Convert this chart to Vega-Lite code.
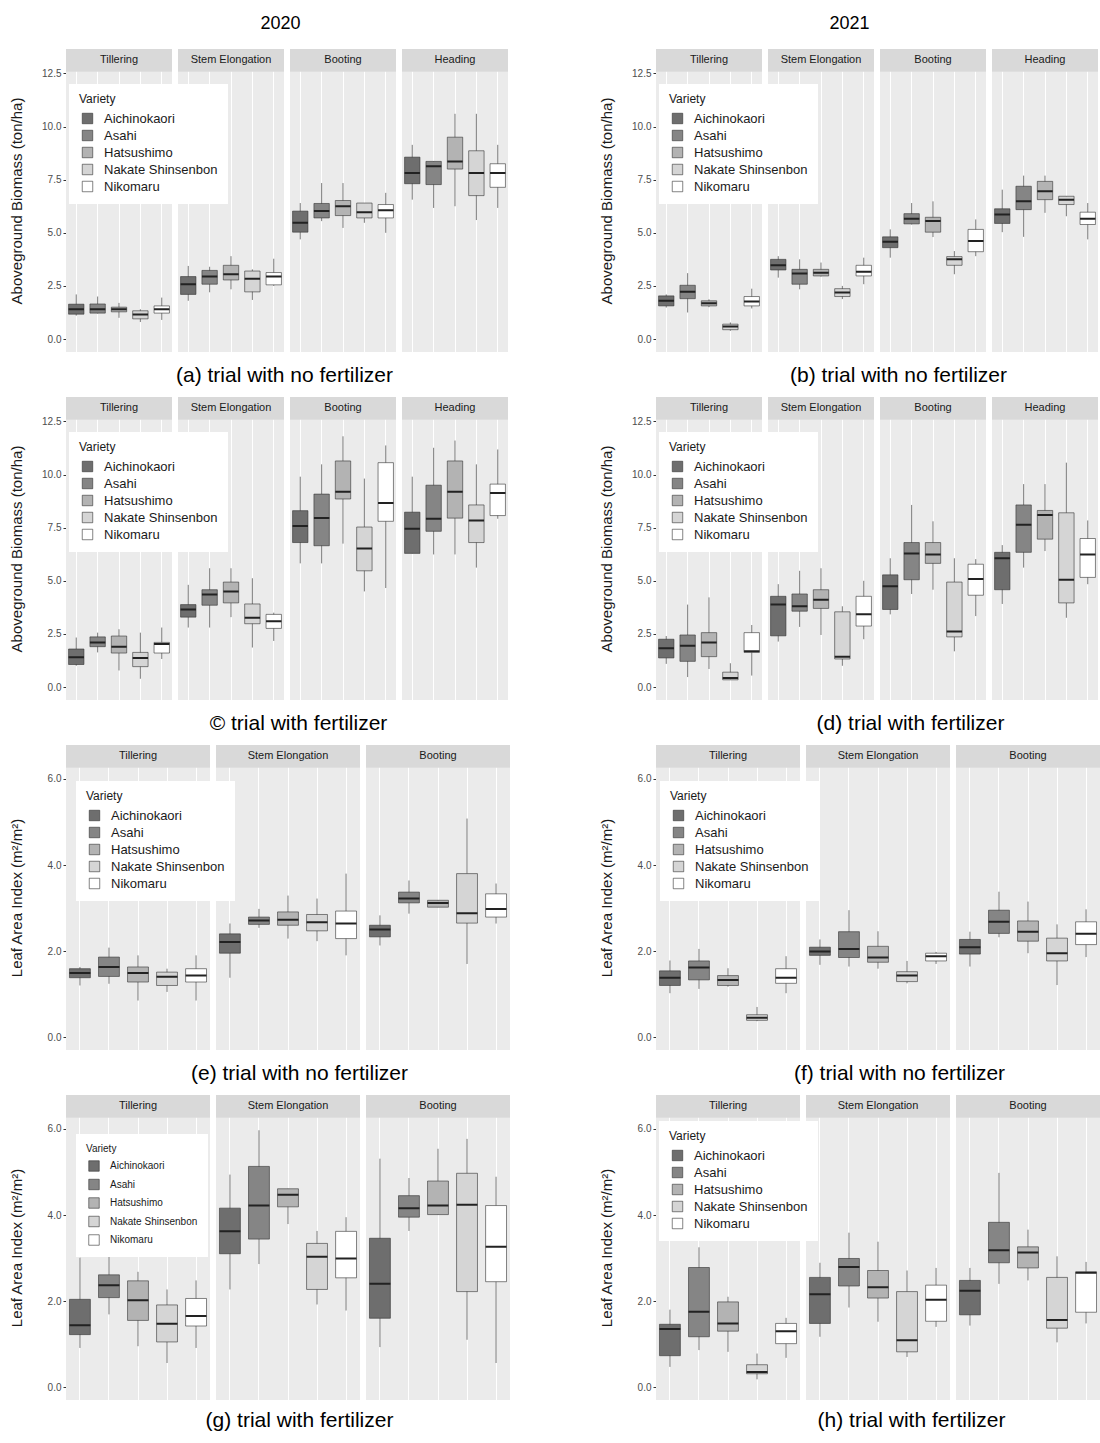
{
  "$schema": "https://vega.github.io/schema/vega-lite/v6.json",
  "background": "white",
  "padding": {"left": 9, "top": 15, "right": 0, "bottom": 0},
  "spacing": 89,
  "resolve": {"legend": {"fill": "independent"}, "scale": {"fill": "independent"}},
  "datasets": {
    "a": [
      {"stage":"Tillering","variety":"Aichinokaori","lo":1.1,"q1":1.17,"med":1.4,"q3":1.64,"hi":2.1},
      {"stage":"Tillering","variety":"Asahi","lo":1.2,"q1":1.22,"med":1.4,"q3":1.65,"hi":2.0},
      {"stage":"Tillering","variety":"Hatsushimo","lo":1.0,"q1":1.28,"med":1.4,"q3":1.5,"hi":1.7},
      {"stage":"Tillering","variety":"Nakate Shinsenbon","lo":0.8,"q1":0.95,"med":1.15,"q3":1.33,"hi":1.4},
      {"stage":"Tillering","variety":"Nikomaru","lo":0.9,"q1":1.22,"med":1.4,"q3":1.56,"hi":1.95},
      {"stage":"Stem Elongation","variety":"Aichinokaori","lo":1.8,"q1":2.1,"med":2.58,"q3":2.94,"hi":3.44},
      {"stage":"Stem Elongation","variety":"Asahi","lo":2.2,"q1":2.58,"med":2.94,"q3":3.23,"hi":3.4},
      {"stage":"Stem Elongation","variety":"Hatsushimo","lo":2.34,"q1":2.78,"med":3.05,"q3":3.47,"hi":3.9},
      {"stage":"Stem Elongation","variety":"Nakate Shinsenbon","lo":1.84,"q1":2.22,"med":2.84,"q3":3.2,"hi":3.28},
      {"stage":"Stem Elongation","variety":"Nikomaru","lo":2.5,"q1":2.55,"med":2.94,"q3":3.13,"hi":3.78},
      {"stage":"Booting","variety":"Aichinokaori","lo":4.69,"q1":5.03,"med":5.47,"q3":6.02,"hi":6.4},
      {"stage":"Booting","variety":"Asahi","lo":5.55,"q1":5.7,"med":6.02,"q3":6.38,"hi":7.34},
      {"stage":"Booting","variety":"Hatsushimo","lo":5.23,"q1":5.81,"med":6.25,"q3":6.52,"hi":7.34},
      {"stage":"Booting","variety":"Nakate Shinsenbon","lo":5.47,"q1":5.7,"med":5.97,"q3":6.4,"hi":6.4},
      {"stage":"Booting","variety":"Nikomaru","lo":5.0,"q1":5.7,"med":6.06,"q3":6.33,"hi":6.88},
      {"stage":"Heading","variety":"Aichinokaori","lo":6.56,"q1":7.31,"med":7.81,"q3":8.56,"hi":9.14},
      {"stage":"Heading","variety":"Asahi","lo":6.17,"q1":7.27,"med":8.13,"q3":8.36,"hi":8.36},
      {"stage":"Heading","variety":"Hatsushimo","lo":6.25,"q1":8.0,"med":8.36,"q3":9.5,"hi":10.6},
      {"stage":"Heading","variety":"Nakate Shinsenbon","lo":5.6,"q1":6.75,"med":7.81,"q3":8.86,"hi":10.6},
      {"stage":"Heading","variety":"Nikomaru","lo":6.17,"q1":7.14,"med":7.81,"q3":8.25,"hi":9.14}
    ],
    "b": [
      {"stage":"Tillering","variety":"Aichinokaori","lo":1.48,"q1":1.56,"med":1.8,"q3":2.03,"hi":2.1},
      {"stage":"Tillering","variety":"Asahi","lo":1.25,"q1":1.9,"med":2.22,"q3":2.53,"hi":3.1},
      {"stage":"Tillering","variety":"Hatsushimo","lo":1.5,"q1":1.56,"med":1.69,"q3":1.8,"hi":1.87},
      {"stage":"Tillering","variety":"Nakate Shinsenbon","lo":0.39,"q1":0.44,"med":0.59,"q3":0.7,"hi":0.78},
      {"stage":"Tillering","variety":"Nikomaru","lo":1.44,"q1":1.56,"med":1.77,"q3":2.0,"hi":2.37},
      {"stage":"Stem Elongation","variety":"Aichinokaori","lo":2.89,"q1":3.25,"med":3.47,"q3":3.75,"hi":3.9},
      {"stage":"Stem Elongation","variety":"Asahi","lo":2.34,"q1":2.58,"med":3.08,"q3":3.28,"hi":3.75},
      {"stage":"Stem Elongation","variety":"Hatsushimo","lo":2.94,"q1":2.97,"med":3.12,"q3":3.28,"hi":3.6},
      {"stage":"Stem Elongation","variety":"Nakate Shinsenbon","lo":1.88,"q1":2.0,"med":2.19,"q3":2.37,"hi":2.5},
      {"stage":"Stem Elongation","variety":"Nikomaru","lo":2.58,"q1":2.97,"med":3.17,"q3":3.47,"hi":3.83},
      {"stage":"Booting","variety":"Aichinokaori","lo":3.83,"q1":4.3,"med":4.58,"q3":4.81,"hi":5.16},
      {"stage":"Booting","variety":"Asahi","lo":5.39,"q1":5.42,"med":5.66,"q3":5.9,"hi":6.4},
      {"stage":"Booting","variety":"Hatsushimo","lo":4.8,"q1":5.03,"med":5.55,"q3":5.73,"hi":6.48},
      {"stage":"Booting","variety":"Nakate Shinsenbon","lo":3.05,"q1":3.47,"med":3.75,"q3":3.88,"hi":4.14},
      {"stage":"Booting","variety":"Nikomaru","lo":3.9,"q1":4.11,"med":4.61,"q3":5.16,"hi":5.63},
      {"stage":"Heading","variety":"Aichinokaori","lo":5.03,"q1":5.44,"med":5.86,"q3":6.13,"hi":7.03},
      {"stage":"Heading","variety":"Asahi","lo":4.81,"q1":6.09,"med":6.48,"q3":7.19,"hi":7.69},
      {"stage":"Heading","variety":"Hatsushimo","lo":5.94,"q1":6.56,"med":6.95,"q3":7.42,"hi":7.69},
      {"stage":"Heading","variety":"Nakate Shinsenbon","lo":5.78,"q1":6.33,"med":6.56,"q3":6.72,"hi":6.72},
      {"stage":"Heading","variety":"Nikomaru","lo":4.69,"q1":5.39,"med":5.66,"q3":5.97,"hi":6.4}
    ],
    "c": [
      {"stage":"Tillering","variety":"Aichinokaori","lo":1.0,"q1":1.06,"med":1.4,"q3":1.79,"hi":2.33},
      {"stage":"Tillering","variety":"Asahi","lo":1.63,"q1":1.9,"med":2.1,"q3":2.36,"hi":2.56},
      {"stage":"Tillering","variety":"Hatsushimo","lo":0.78,"q1":1.6,"med":1.9,"q3":2.4,"hi":2.72},
      {"stage":"Tillering","variety":"Nakate Shinsenbon","lo":0.39,"q1":0.96,"med":1.37,"q3":1.63,"hi":2.56},
      {"stage":"Tillering","variety":"Nikomaru","lo":1.32,"q1":1.6,"med":2.02,"q3":2.1,"hi":2.8},
      {"stage":"Stem Elongation","variety":"Aichinokaori","lo":2.8,"q1":3.29,"med":3.65,"q3":3.88,"hi":4.81},
      {"stage":"Stem Elongation","variety":"Asahi","lo":2.8,"q1":3.85,"med":4.35,"q3":4.58,"hi":5.59},
      {"stage":"Stem Elongation","variety":"Hatsushimo","lo":3.29,"q1":3.96,"med":4.5,"q3":4.94,"hi":5.59},
      {"stage":"Stem Elongation","variety":"Nakate Shinsenbon","lo":1.86,"q1":2.98,"med":3.26,"q3":3.91,"hi":5.12},
      {"stage":"Stem Elongation","variety":"Nikomaru","lo":2.17,"q1":2.76,"med":3.1,"q3":3.42,"hi":3.5},
      {"stage":"Booting","variety":"Aichinokaori","lo":5.82,"q1":6.8,"med":7.58,"q3":8.3,"hi":9.9},
      {"stage":"Booting","variety":"Asahi","lo":5.82,"q1":6.65,"med":7.95,"q3":9.08,"hi":10.48},
      {"stage":"Booting","variety":"Hatsushimo","lo":6.75,"q1":8.85,"med":9.19,"q3":10.64,"hi":11.8},
      {"stage":"Booting","variety":"Nakate Shinsenbon","lo":4.5,"q1":5.47,"med":6.52,"q3":7.53,"hi":9.81},
      {"stage":"Booting","variety":"Nikomaru","lo":4.66,"q1":7.8,"med":8.66,"q3":10.56,"hi":11.37},
      {"stage":"Heading","variety":"Aichinokaori","lo":6.29,"q1":6.29,"med":7.45,"q3":8.23,"hi":9.9},
      {"stage":"Heading","variety":"Asahi","lo":6.24,"q1":7.33,"med":7.92,"q3":9.5,"hi":11.26},
      {"stage":"Heading","variety":"Hatsushimo","lo":6.24,"q1":7.95,"med":9.19,"q3":10.64,"hi":11.6},
      {"stage":"Heading","variety":"Nakate Shinsenbon","lo":5.62,"q1":6.8,"med":7.84,"q3":8.57,"hi":10.48},
      {"stage":"Heading","variety":"Nikomaru","lo":7.92,"q1":8.07,"med":9.13,"q3":9.55,"hi":11.18}
    ],
    "d": [
      {"stage":"Tillering","variety":"Aichinokaori","lo":1.09,"q1":1.37,"med":1.83,"q3":2.25,"hi":2.4},
      {"stage":"Tillering","variety":"Asahi","lo":0.47,"q1":1.21,"med":1.94,"q3":2.45,"hi":3.88},
      {"stage":"Tillering","variety":"Hatsushimo","lo":0.85,"q1":1.43,"med":2.1,"q3":2.56,"hi":4.22},
      {"stage":"Tillering","variety":"Nakate Shinsenbon","lo":0.34,"q1":0.34,"med":0.43,"q3":0.7,"hi":1.12},
      {"stage":"Tillering","variety":"Nikomaru","lo":0.54,"q1":1.63,"med":1.68,"q3":2.56,"hi":2.92},
      {"stage":"Stem Elongation","variety":"Aichinokaori","lo":2.14,"q1":2.41,"med":3.88,"q3":4.27,"hi":4.84},
      {"stage":"Stem Elongation","variety":"Asahi","lo":2.83,"q1":3.57,"med":3.8,"q3":4.38,"hi":5.47},
      {"stage":"Stem Elongation","variety":"Hatsushimo","lo":2.45,"q1":3.7,"med":4.11,"q3":4.58,"hi":5.59},
      {"stage":"Stem Elongation","variety":"Nakate Shinsenbon","lo":1.0,"q1":1.32,"med":1.43,"q3":3.54,"hi":3.8},
      {"stage":"Stem Elongation","variety":"Nikomaru","lo":2.25,"q1":2.87,"med":3.42,"q3":4.27,"hi":5.0},
      {"stage":"Booting","variety":"Aichinokaori","lo":3.42,"q1":3.65,"med":4.74,"q3":5.28,"hi":6.06},
      {"stage":"Booting","variety":"Asahi","lo":4.38,"q1":5.05,"med":6.29,"q3":6.8,"hi":8.57},
      {"stage":"Booting","variety":"Hatsushimo","lo":4.58,"q1":5.82,"med":6.24,"q3":6.8,"hi":7.8},
      {"stage":"Booting","variety":"Nakate Shinsenbon","lo":1.68,"q1":2.36,"med":2.61,"q3":4.94,"hi":6.06},
      {"stage":"Booting","variety":"Nikomaru","lo":3.34,"q1":4.32,"med":5.09,"q3":5.78,"hi":6.02},
      {"stage":"Heading","variety":"Aichinokaori","lo":3.91,"q1":4.58,"med":6.06,"q3":6.34,"hi":6.68},
      {"stage":"Heading","variety":"Asahi","lo":5.62,"q1":6.34,"med":7.64,"q3":8.57,"hi":9.55},
      {"stage":"Heading","variety":"Hatsushimo","lo":6.4,"q1":6.96,"med":8.1,"q3":8.31,"hi":9.55},
      {"stage":"Heading","variety":"Nakate Shinsenbon","lo":3.26,"q1":3.96,"med":5.05,"q3":8.2,"hi":10.56},
      {"stage":"Heading","variety":"Nikomaru","lo":4.84,"q1":5.16,"med":6.24,"q3":6.99,"hi":7.84}
    ],
    "e": [
      {"stage":"Tillering","variety":"Aichinokaori","lo":1.2,"q1":1.38,"med":1.49,"q3":1.59,"hi":1.63},
      {"stage":"Tillering","variety":"Asahi","lo":1.24,"q1":1.41,"med":1.63,"q3":1.86,"hi":2.08},
      {"stage":"Tillering","variety":"Hatsushimo","lo":0.85,"q1":1.28,"med":1.49,"q3":1.63,"hi":1.9},
      {"stage":"Tillering","variety":"Nakate Shinsenbon","lo":1.05,"q1":1.2,"med":1.4,"q3":1.51,"hi":1.59},
      {"stage":"Tillering","variety":"Nikomaru","lo":0.85,"q1":1.28,"med":1.43,"q3":1.59,"hi":1.9},
      {"stage":"Stem Elongation","variety":"Aichinokaori","lo":1.38,"q1":1.95,"med":2.21,"q3":2.4,"hi":2.64},
      {"stage":"Stem Elongation","variety":"Asahi","lo":2.54,"q1":2.62,"med":2.71,"q3":2.79,"hi":2.98},
      {"stage":"Stem Elongation","variety":"Hatsushimo","lo":2.29,"q1":2.6,"med":2.73,"q3":2.91,"hi":3.29},
      {"stage":"Stem Elongation","variety":"Nakate Shinsenbon","lo":2.23,"q1":2.47,"med":2.67,"q3":2.85,"hi":3.22},
      {"stage":"Stem Elongation","variety":"Nikomaru","lo":1.9,"q1":2.29,"med":2.64,"q3":2.93,"hi":3.8},
      {"stage":"Booting","variety":"Aichinokaori","lo":2.13,"q1":2.33,"med":2.5,"q3":2.6,"hi":2.83},
      {"stage":"Booting","variety":"Asahi","lo":2.87,"q1":3.12,"med":3.22,"q3":3.37,"hi":3.64},
      {"stage":"Booting","variety":"Hatsushimo","lo":3.02,"q1":3.02,"med":3.12,"q3":3.18,"hi":3.18},
      {"stage":"Booting","variety":"Nakate Shinsenbon","lo":1.7,"q1":2.65,"med":2.88,"q3":3.8,"hi":5.08},
      {"stage":"Booting","variety":"Nikomaru","lo":2.64,"q1":2.79,"med":2.98,"q3":3.33,"hi":3.57}
    ],
    "f": [
      {"stage":"Tillering","variety":"Aichinokaori","lo":1.02,"q1":1.2,"med":1.38,"q3":1.54,"hi":1.78},
      {"stage":"Tillering","variety":"Asahi","lo":1.12,"q1":1.33,"med":1.62,"q3":1.77,"hi":2.05},
      {"stage":"Tillering","variety":"Hatsushimo","lo":1.17,"q1":1.2,"med":1.33,"q3":1.43,"hi":1.6},
      {"stage":"Tillering","variety":"Nakate Shinsenbon","lo":0.37,"q1":0.39,"med":0.45,"q3":0.52,"hi":0.7},
      {"stage":"Tillering","variety":"Nikomaru","lo":1.02,"q1":1.25,"med":1.38,"q3":1.59,"hi":1.88},
      {"stage":"Stem Elongation","variety":"Aichinokaori","lo":1.68,"q1":1.9,"med":1.99,"q3":2.09,"hi":2.27},
      {"stage":"Stem Elongation","variety":"Asahi","lo":1.64,"q1":1.85,"med":2.05,"q3":2.45,"hi":2.95},
      {"stage":"Stem Elongation","variety":"Hatsushimo","lo":1.59,"q1":1.74,"med":1.85,"q3":2.11,"hi":2.46},
      {"stage":"Stem Elongation","variety":"Nakate Shinsenbon","lo":1.25,"q1":1.29,"med":1.43,"q3":1.52,"hi":1.77},
      {"stage":"Stem Elongation","variety":"Nikomaru","lo":1.7,"q1":1.77,"med":1.88,"q3":1.95,"hi":1.98},
      {"stage":"Booting","variety":"Aichinokaori","lo":1.64,"q1":1.93,"med":2.09,"q3":2.27,"hi":2.45},
      {"stage":"Booting","variety":"Asahi","lo":2.32,"q1":2.41,"med":2.68,"q3":2.95,"hi":3.38},
      {"stage":"Booting","variety":"Hatsushimo","lo":1.95,"q1":2.23,"med":2.45,"q3":2.7,"hi":3.15},
      {"stage":"Booting","variety":"Nakate Shinsenbon","lo":1.21,"q1":1.77,"med":1.95,"q3":2.3,"hi":2.62},
      {"stage":"Booting","variety":"Nikomaru","lo":1.86,"q1":2.15,"med":2.4,"q3":2.68,"hi":2.97}
    ],
    "g": [
      {"stage":"Tillering","variety":"Aichinokaori","lo":0.91,"q1":1.22,"med":1.44,"q3":2.04,"hi":3.01},
      {"stage":"Tillering","variety":"Asahi","lo":1.69,"q1":2.08,"med":2.37,"q3":2.61,"hi":3.09},
      {"stage":"Tillering","variety":"Hatsushimo","lo":0.95,"q1":1.55,"med":2.02,"q3":2.47,"hi":2.68},
      {"stage":"Tillering","variety":"Nakate Shinsenbon","lo":0.56,"q1":1.05,"med":1.47,"q3":1.91,"hi":2.27},
      {"stage":"Tillering","variety":"Nikomaru","lo":0.91,"q1":1.42,"med":1.65,"q3":2.06,"hi":2.48},
      {"stage":"Stem Elongation","variety":"Aichinokaori","lo":2.27,"q1":3.1,"med":3.62,"q3":4.16,"hi":4.94},
      {"stage":"Stem Elongation","variety":"Asahi","lo":2.86,"q1":3.44,"med":4.22,"q3":5.13,"hi":5.97},
      {"stage":"Stem Elongation","variety":"Hatsushimo","lo":3.79,"q1":4.19,"med":4.47,"q3":4.61,"hi":4.61},
      {"stage":"Stem Elongation","variety":"Nakate Shinsenbon","lo":1.92,"q1":2.27,"med":3.03,"q3":3.34,"hi":3.63},
      {"stage":"Stem Elongation","variety":"Nikomaru","lo":1.78,"q1":2.54,"med":2.99,"q3":3.62,"hi":3.95},
      {"stage":"Booting","variety":"Aichinokaori","lo":0.93,"q1":1.6,"med":2.4,"q3":3.46,"hi":5.31},
      {"stage":"Booting","variety":"Asahi","lo":3.63,"q1":3.95,"med":4.16,"q3":4.45,"hi":4.86},
      {"stage":"Booting","variety":"Hatsushimo","lo":4.01,"q1":4.01,"med":4.22,"q3":4.79,"hi":5.54},
      {"stage":"Booting","variety":"Nakate Shinsenbon","lo":1.1,"q1":2.22,"med":4.24,"q3":4.97,"hi":5.77},
      {"stage":"Booting","variety":"Nikomaru","lo":0.56,"q1":2.45,"med":3.26,"q3":4.22,"hi":4.89}
    ],
    "h": [
      {"stage":"Tillering","variety":"Aichinokaori","lo":0.47,"q1":0.73,"med":1.35,"q3":1.46,"hi":1.8},
      {"stage":"Tillering","variety":"Asahi","lo":0.86,"q1":1.17,"med":1.75,"q3":2.78,"hi":3.25},
      {"stage":"Tillering","variety":"Hatsushimo","lo":0.82,"q1":1.3,"med":1.48,"q3":1.98,"hi":2.1},
      {"stage":"Tillering","variety":"Nakate Shinsenbon","lo":0.18,"q1":0.31,"med":0.35,"q3":0.52,"hi":0.78},
      {"stage":"Tillering","variety":"Nikomaru","lo":0.68,"q1":1.01,"med":1.3,"q3":1.48,"hi":1.61},
      {"stage":"Stem Elongation","variety":"Aichinokaori","lo":1.17,"q1":1.48,"med":2.16,"q3":2.55,"hi":2.89},
      {"stage":"Stem Elongation","variety":"Asahi","lo":1.85,"q1":2.35,"med":2.79,"q3":2.99,"hi":3.59},
      {"stage":"Stem Elongation","variety":"Hatsushimo","lo":1.52,"q1":2.07,"med":2.32,"q3":2.71,"hi":3.38},
      {"stage":"Stem Elongation","variety":"Nakate Shinsenbon","lo":0.7,"q1":0.82,"med":1.09,"q3":2.22,"hi":2.71},
      {"stage":"Stem Elongation","variety":"Nikomaru","lo":1.4,"q1":1.53,"med":2.03,"q3":2.37,"hi":2.77},
      {"stage":"Booting","variety":"Aichinokaori","lo":1.43,"q1":1.68,"med":2.24,"q3":2.48,"hi":2.77},
      {"stage":"Booting","variety":"Asahi","lo":2.4,"q1":2.89,"med":3.18,"q3":3.83,"hi":4.98},
      {"stage":"Booting","variety":"Hatsushimo","lo":2.48,"q1":2.77,"med":3.13,"q3":3.26,"hi":3.66},
      {"stage":"Booting","variety":"Nakate Shinsenbon","lo":1.04,"q1":1.37,"med":1.56,"q3":2.55,"hi":3.04},
      {"stage":"Booting","variety":"Nikomaru","lo":1.48,"q1":1.74,"med":2.66,"q3":2.68,"hi":2.91}
    ]
  },
  "hconcat": [
    {
      "title": {"text": "2020", "fontSize": 18, "fontWeight": "normal", "color": "black", "anchor": "middle", "offset": 16, "dx": 21},
      "spacing": 11,
      "resolve": {"legend": {"fill": "independent"}, "scale": {"fill": "independent"}},
      "vconcat": [
        {
          "data": {"name": "a"},
          "title": {"text": "(a) trial with no fertilizer", "orient": "bottom", "fontSize": 21, "fontWeight": "normal", "color": "black", "anchor": "middle", "offset": 13, "dx": 26},
          "facet": {"column": {"field": "stage", "type": "nominal", "sort": ["Tillering","Stem Elongation","Booting","Heading"], "title": null, "header": {"labels": false}}},
          "spacing": 6,
          "spec": {"width": 106, "height": 303, "layer": [
            {"mark": {"type": "rect", "color": "#D9D9D9"}, "encoding": {"y": {"datum": 12.6, "type": "quantitative", "title": "Aboveground Biomass (ton/ha)", "scale": {"domain": [-0.61, 13.65], "nice": false, "zero": false}, "axis": {"values": [0,1.25,2.5,3.75,5,6.25,7.5,8.75,10,11.25,12.5], "labelExpr": "datum.value % 2.5 === 0 ? format(datum.value, '.1f') : ''", "gridWidth": {"condition": {"test": "datum.value % 2.5 === 0", "value": 1.1}, "value": 0.5}, "tickOpacity": {"condition": {"test": "datum.value % 2.5 === 0", "value": 1}, "value": 0}}}, "y2": {"datum": 13.65}}},
            {"transform": [{"filter": "datum.variety === 'Aichinokaori'"}], "mark": {"type": "text", "fontSize": 11, "color": "#1A1A1A", "baseline": "middle"}, "encoding": {"y": {"datum": 13.12, "type": "quantitative", "title": "Aboveground Biomass (ton/ha)"}, "text": {"field": "stage"}}},
            {"mark": {"type": "rule", "color": "#444444", "strokeWidth": 0.7}, "encoding": {"x": {"field": "variety", "type": "nominal", "sort": ["Aichinokaori","Asahi","Hatsushimo","Nakate Shinsenbon","Nikomaru"], "scale": {"paddingInner": 0.28, "paddingOuter": 0.12}, "axis": {"labels": false, "ticks": false, "domain": false, "title": null, "grid": true, "gridColor": "white", "gridWidth": 1, "bandPosition": 0.5}}, "y": {"field": "lo", "type": "quantitative", "title": "Aboveground Biomass (ton/ha)"}, "y2": {"field": "hi"}}},
            {"mark": {"type": "bar", "stroke": "#333333", "strokeWidth": 0.6}, "encoding": {"x": {"field": "variety", "type": "nominal", "sort": ["Aichinokaori","Asahi","Hatsushimo","Nakate Shinsenbon","Nikomaru"]}, "y": {"field": "q1", "type": "quantitative", "title": "Aboveground Biomass (ton/ha)"}, "y2": {"field": "q3"}, "fill": {"field": "variety", "type": "nominal", "title": "Variety", "scale": {"domain": ["Aichinokaori","Asahi","Hatsushimo","Nakate Shinsenbon","Nikomaru"], "range": ["#6e6e6e","#858585","#b3b3b3","#d5d5d5","#ffffff"]}, "legend": {"orient": "none", "legendX": 3, "legendY": 35}}}},
            {"mark": {"type": "bar", "filled": false, "color": "#222222", "strokeWidth": 2}, "encoding": {"x": {"field": "variety", "type": "nominal", "sort": ["Aichinokaori","Asahi","Hatsushimo","Nakate Shinsenbon","Nikomaru"]}, "y": {"field": "med", "type": "quantitative", "title": "Aboveground Biomass (ton/ha)"}, "y2": {"field": "med"}}}
          ]}
        },
        {
          "data": {"name": "c"},
          "title": {"text": "© trial with fertilizer", "orient": "bottom", "fontSize": 21, "fontWeight": "normal", "color": "black", "anchor": "middle", "offset": 13, "dx": 40},
          "facet": {"column": {"field": "stage", "type": "nominal", "sort": ["Tillering","Stem Elongation","Booting","Heading"], "title": null, "header": {"labels": false}}},
          "spacing": 6,
          "spec": {"width": 106, "height": 303, "layer": [
            {"mark": {"type": "rect", "color": "#D9D9D9"}, "encoding": {"y": {"datum": 12.6, "type": "quantitative", "title": "Aboveground Biomass (ton/ha)", "scale": {"domain": [-0.61, 13.65], "nice": false, "zero": false}, "axis": {"values": [0,1.25,2.5,3.75,5,6.25,7.5,8.75,10,11.25,12.5], "labelExpr": "datum.value % 2.5 === 0 ? format(datum.value, '.1f') : ''", "gridWidth": {"condition": {"test": "datum.value % 2.5 === 0", "value": 1.1}, "value": 0.5}, "tickOpacity": {"condition": {"test": "datum.value % 2.5 === 0", "value": 1}, "value": 0}}}, "y2": {"datum": 13.65}}},
            {"transform": [{"filter": "datum.variety === 'Aichinokaori'"}], "mark": {"type": "text", "fontSize": 11, "color": "#1A1A1A", "baseline": "middle"}, "encoding": {"y": {"datum": 13.12, "type": "quantitative", "title": "Aboveground Biomass (ton/ha)"}, "text": {"field": "stage"}}},
            {"mark": {"type": "rule", "color": "#444444", "strokeWidth": 0.7}, "encoding": {"x": {"field": "variety", "type": "nominal", "sort": ["Aichinokaori","Asahi","Hatsushimo","Nakate Shinsenbon","Nikomaru"], "scale": {"paddingInner": 0.28, "paddingOuter": 0.12}, "axis": {"labels": false, "ticks": false, "domain": false, "title": null, "grid": true, "gridColor": "white", "gridWidth": 1, "bandPosition": 0.5}}, "y": {"field": "lo", "type": "quantitative", "title": "Aboveground Biomass (ton/ha)"}, "y2": {"field": "hi"}}},
            {"mark": {"type": "bar", "stroke": "#333333", "strokeWidth": 0.6}, "encoding": {"x": {"field": "variety", "type": "nominal", "sort": ["Aichinokaori","Asahi","Hatsushimo","Nakate Shinsenbon","Nikomaru"]}, "y": {"field": "q1", "type": "quantitative", "title": "Aboveground Biomass (ton/ha)"}, "y2": {"field": "q3"}, "fill": {"field": "variety", "type": "nominal", "title": "Variety", "scale": {"domain": ["Aichinokaori","Asahi","Hatsushimo","Nakate Shinsenbon","Nikomaru"], "range": ["#6e6e6e","#858585","#b3b3b3","#d5d5d5","#ffffff"]}, "legend": {"orient": "none", "legendX": 3, "legendY": 35}}}},
            {"mark": {"type": "bar", "filled": false, "color": "#222222", "strokeWidth": 2}, "encoding": {"x": {"field": "variety", "type": "nominal", "sort": ["Aichinokaori","Asahi","Hatsushimo","Nakate Shinsenbon","Nikomaru"]}, "y": {"field": "med", "type": "quantitative", "title": "Aboveground Biomass (ton/ha)"}, "y2": {"field": "med"}}}
          ]}
        },
        {
          "data": {"name": "e"},
          "title": {"text": "(e) trial with no fertilizer", "orient": "bottom", "fontSize": 21, "fontWeight": "normal", "color": "black", "anchor": "middle", "offset": 13, "dx": 40},
          "facet": {"column": {"field": "stage", "type": "nominal", "sort": ["Tillering","Stem Elongation","Booting"], "title": null, "header": {"labels": false}}},
          "spacing": 6,
          "spec": {"width": 144, "height": 305, "layer": [
            {"mark": {"type": "rect", "color": "#D9D9D9"}, "encoding": {"y": {"datum": 6.27, "type": "quantitative", "title": "Leaf Area Index (m²/m²)", "scale": {"domain": [-0.3, 6.79], "nice": false, "zero": false}, "axis": {"values": [0,1,2,3,4,5,6], "labelExpr": "datum.value % 2 === 0 ? format(datum.value, '.1f') : ''", "gridWidth": {"condition": {"test": "datum.value % 2 === 0", "value": 1.1}, "value": 0.5}, "tickOpacity": {"condition": {"test": "datum.value % 2 === 0", "value": 1}, "value": 0}}}, "y2": {"datum": 6.79}}},
            {"transform": [{"filter": "datum.variety === 'Aichinokaori'"}], "mark": {"type": "text", "fontSize": 11, "color": "#1A1A1A", "baseline": "middle"}, "encoding": {"y": {"datum": 6.53, "type": "quantitative", "title": "Leaf Area Index (m²/m²)"}, "text": {"field": "stage"}}},
            {"mark": {"type": "rule", "color": "#444444", "strokeWidth": 0.7}, "encoding": {"x": {"field": "variety", "type": "nominal", "sort": ["Aichinokaori","Asahi","Hatsushimo","Nakate Shinsenbon","Nikomaru"], "scale": {"paddingInner": 0.28, "paddingOuter": 0.12}, "axis": {"labels": false, "ticks": false, "domain": false, "title": null, "grid": true, "gridColor": "white", "gridWidth": 1, "bandPosition": 0.5}}, "y": {"field": "lo", "type": "quantitative", "title": "Leaf Area Index (m²/m²)"}, "y2": {"field": "hi"}}},
            {"mark": {"type": "bar", "stroke": "#333333", "strokeWidth": 0.6}, "encoding": {"x": {"field": "variety", "type": "nominal", "sort": ["Aichinokaori","Asahi","Hatsushimo","Nakate Shinsenbon","Nikomaru"]}, "y": {"field": "q1", "type": "quantitative", "title": "Leaf Area Index (m²/m²)"}, "y2": {"field": "q3"}, "fill": {"field": "variety", "type": "nominal", "title": "Variety", "scale": {"domain": ["Aichinokaori","Asahi","Hatsushimo","Nakate Shinsenbon","Nikomaru"], "range": ["#6e6e6e","#858585","#b3b3b3","#d5d5d5","#ffffff"]}, "legend": {"orient": "none", "legendX": 10, "legendY": 36}}}},
            {"mark": {"type": "bar", "filled": false, "color": "#222222", "strokeWidth": 2}, "encoding": {"x": {"field": "variety", "type": "nominal", "sort": ["Aichinokaori","Asahi","Hatsushimo","Nakate Shinsenbon","Nikomaru"]}, "y": {"field": "med", "type": "quantitative", "title": "Leaf Area Index (m²/m²)"}, "y2": {"field": "med"}}}
          ]}
        },
        {
          "data": {"name": "g"},
          "title": {"text": "(g) trial with fertilizer", "orient": "bottom", "fontSize": 21, "fontWeight": "normal", "color": "black", "anchor": "middle", "offset": 10, "dx": 40},
          "facet": {"column": {"field": "stage", "type": "nominal", "sort": ["Tillering","Stem Elongation","Booting"], "title": null, "header": {"labels": false}}},
          "spacing": 6,
          "spec": {"width": 144, "height": 305, "layer": [
            {"mark": {"type": "rect", "color": "#D9D9D9"}, "encoding": {"y": {"datum": 6.27, "type": "quantitative", "title": "Leaf Area Index (m²/m²)", "scale": {"domain": [-0.3, 6.79], "nice": false, "zero": false}, "axis": {"values": [0,1,2,3,4,5,6], "labelExpr": "datum.value % 2 === 0 ? format(datum.value, '.1f') : ''", "gridWidth": {"condition": {"test": "datum.value % 2 === 0", "value": 1.1}, "value": 0.5}, "tickOpacity": {"condition": {"test": "datum.value % 2 === 0", "value": 1}, "value": 0}}}, "y2": {"datum": 6.79}}},
            {"transform": [{"filter": "datum.variety === 'Aichinokaori'"}], "mark": {"type": "text", "fontSize": 11, "color": "#1A1A1A", "baseline": "middle"}, "encoding": {"y": {"datum": 6.53, "type": "quantitative", "title": "Leaf Area Index (m²/m²)"}, "text": {"field": "stage"}}},
            {"mark": {"type": "rule", "color": "#444444", "strokeWidth": 0.7}, "encoding": {"x": {"field": "variety", "type": "nominal", "sort": ["Aichinokaori","Asahi","Hatsushimo","Nakate Shinsenbon","Nikomaru"], "scale": {"paddingInner": 0.28, "paddingOuter": 0.12}, "axis": {"labels": false, "ticks": false, "domain": false, "title": null, "grid": true, "gridColor": "white", "gridWidth": 1, "bandPosition": 0.5}}, "y": {"field": "lo", "type": "quantitative", "title": "Leaf Area Index (m²/m²)"}, "y2": {"field": "hi"}}},
            {"mark": {"type": "bar", "stroke": "#333333", "strokeWidth": 0.6}, "encoding": {"x": {"field": "variety", "type": "nominal", "sort": ["Aichinokaori","Asahi","Hatsushimo","Nakate Shinsenbon","Nikomaru"]}, "y": {"field": "q1", "type": "quantitative", "title": "Leaf Area Index (m²/m²)"}, "y2": {"field": "q3"}, "fill": {"field": "variety", "type": "nominal", "title": "Variety", "scale": {"domain": ["Aichinokaori","Asahi","Hatsushimo","Nakate Shinsenbon","Nikomaru"], "range": ["#6e6e6e","#858585","#b3b3b3","#d5d5d5","#ffffff"]}, "legend": {"orient": "none", "legendX": 10, "legendY": 39, "labelFontSize": 10, "titleFontSize": 10, "rowPadding": 4.5}}}},
            {"mark": {"type": "bar", "filled": false, "color": "#222222", "strokeWidth": 2}, "encoding": {"x": {"field": "variety", "type": "nominal", "sort": ["Aichinokaori","Asahi","Hatsushimo","Nakate Shinsenbon","Nikomaru"]}, "y": {"field": "med", "type": "quantitative", "title": "Leaf Area Index (m²/m²)"}, "y2": {"field": "med"}}}
          ]}
        }
      ]
    },
    {
      "title": {"text": "2021", "fontSize": 18, "fontWeight": "normal", "color": "black", "anchor": "middle", "offset": 16},
      "spacing": 11,
      "resolve": {"legend": {"fill": "independent"}, "scale": {"fill": "independent"}},
      "vconcat": [
        {
          "data": {"name": "b"},
          "title": {"text": "(b) trial with no fertilizer", "orient": "bottom", "fontSize": 21, "fontWeight": "normal", "color": "black", "anchor": "middle", "offset": 13, "dx": 50},
          "facet": {"column": {"field": "stage", "type": "nominal", "sort": ["Tillering","Stem Elongation","Booting","Heading"], "title": null, "header": {"labels": false}}},
          "spacing": 6,
          "spec": {"width": 106, "height": 303, "layer": [
            {"mark": {"type": "rect", "color": "#D9D9D9"}, "encoding": {"y": {"datum": 12.6, "type": "quantitative", "title": "Aboveground Biomass (ton/ha)", "scale": {"domain": [-0.61, 13.65], "nice": false, "zero": false}, "axis": {"values": [0,1.25,2.5,3.75,5,6.25,7.5,8.75,10,11.25,12.5], "labelExpr": "datum.value % 2.5 === 0 ? format(datum.value, '.1f') : ''", "gridWidth": {"condition": {"test": "datum.value % 2.5 === 0", "value": 1.1}, "value": 0.5}, "tickOpacity": {"condition": {"test": "datum.value % 2.5 === 0", "value": 1}, "value": 0}}}, "y2": {"datum": 13.65}}},
            {"transform": [{"filter": "datum.variety === 'Aichinokaori'"}], "mark": {"type": "text", "fontSize": 11, "color": "#1A1A1A", "baseline": "middle"}, "encoding": {"y": {"datum": 13.12, "type": "quantitative", "title": "Aboveground Biomass (ton/ha)"}, "text": {"field": "stage"}}},
            {"mark": {"type": "rule", "color": "#444444", "strokeWidth": 0.7}, "encoding": {"x": {"field": "variety", "type": "nominal", "sort": ["Aichinokaori","Asahi","Hatsushimo","Nakate Shinsenbon","Nikomaru"], "scale": {"paddingInner": 0.28, "paddingOuter": 0.12}, "axis": {"labels": false, "ticks": false, "domain": false, "title": null, "grid": true, "gridColor": "white", "gridWidth": 1, "bandPosition": 0.5}}, "y": {"field": "lo", "type": "quantitative", "title": "Aboveground Biomass (ton/ha)"}, "y2": {"field": "hi"}}},
            {"mark": {"type": "bar", "stroke": "#333333", "strokeWidth": 0.6}, "encoding": {"x": {"field": "variety", "type": "nominal", "sort": ["Aichinokaori","Asahi","Hatsushimo","Nakate Shinsenbon","Nikomaru"]}, "y": {"field": "q1", "type": "quantitative", "title": "Aboveground Biomass (ton/ha)"}, "y2": {"field": "q3"}, "fill": {"field": "variety", "type": "nominal", "title": "Variety", "scale": {"domain": ["Aichinokaori","Asahi","Hatsushimo","Nakate Shinsenbon","Nikomaru"], "range": ["#6e6e6e","#858585","#b3b3b3","#d5d5d5","#ffffff"]}, "legend": {"orient": "none", "legendX": 3, "legendY": 35}}}},
            {"mark": {"type": "bar", "filled": false, "color": "#222222", "strokeWidth": 2}, "encoding": {"x": {"field": "variety", "type": "nominal", "sort": ["Aichinokaori","Asahi","Hatsushimo","Nakate Shinsenbon","Nikomaru"]}, "y": {"field": "med", "type": "quantitative", "title": "Aboveground Biomass (ton/ha)"}, "y2": {"field": "med"}}}
          ]}
        },
        {
          "data": {"name": "d"},
          "title": {"text": "(d) trial with fertilizer", "orient": "bottom", "fontSize": 21, "fontWeight": "normal", "color": "black", "anchor": "middle", "offset": 13, "dx": 62},
          "facet": {"column": {"field": "stage", "type": "nominal", "sort": ["Tillering","Stem Elongation","Booting","Heading"], "title": null, "header": {"labels": false}}},
          "spacing": 6,
          "spec": {"width": 106, "height": 303, "layer": [
            {"mark": {"type": "rect", "color": "#D9D9D9"}, "encoding": {"y": {"datum": 12.6, "type": "quantitative", "title": "Aboveground Biomass (ton/ha)", "scale": {"domain": [-0.61, 13.65], "nice": false, "zero": false}, "axis": {"values": [0,1.25,2.5,3.75,5,6.25,7.5,8.75,10,11.25,12.5], "labelExpr": "datum.value % 2.5 === 0 ? format(datum.value, '.1f') : ''", "gridWidth": {"condition": {"test": "datum.value % 2.5 === 0", "value": 1.1}, "value": 0.5}, "tickOpacity": {"condition": {"test": "datum.value % 2.5 === 0", "value": 1}, "value": 0}}}, "y2": {"datum": 13.65}}},
            {"transform": [{"filter": "datum.variety === 'Aichinokaori'"}], "mark": {"type": "text", "fontSize": 11, "color": "#1A1A1A", "baseline": "middle"}, "encoding": {"y": {"datum": 13.12, "type": "quantitative", "title": "Aboveground Biomass (ton/ha)"}, "text": {"field": "stage"}}},
            {"mark": {"type": "rule", "color": "#444444", "strokeWidth": 0.7}, "encoding": {"x": {"field": "variety", "type": "nominal", "sort": ["Aichinokaori","Asahi","Hatsushimo","Nakate Shinsenbon","Nikomaru"], "scale": {"paddingInner": 0.28, "paddingOuter": 0.12}, "axis": {"labels": false, "ticks": false, "domain": false, "title": null, "grid": true, "gridColor": "white", "gridWidth": 1, "bandPosition": 0.5}}, "y": {"field": "lo", "type": "quantitative", "title": "Aboveground Biomass (ton/ha)"}, "y2": {"field": "hi"}}},
            {"mark": {"type": "bar", "stroke": "#333333", "strokeWidth": 0.6}, "encoding": {"x": {"field": "variety", "type": "nominal", "sort": ["Aichinokaori","Asahi","Hatsushimo","Nakate Shinsenbon","Nikomaru"]}, "y": {"field": "q1", "type": "quantitative", "title": "Aboveground Biomass (ton/ha)"}, "y2": {"field": "q3"}, "fill": {"field": "variety", "type": "nominal", "title": "Variety", "scale": {"domain": ["Aichinokaori","Asahi","Hatsushimo","Nakate Shinsenbon","Nikomaru"], "range": ["#6e6e6e","#858585","#b3b3b3","#d5d5d5","#ffffff"]}, "legend": {"orient": "none", "legendX": 3, "legendY": 35}}}},
            {"mark": {"type": "bar", "filled": false, "color": "#222222", "strokeWidth": 2}, "encoding": {"x": {"field": "variety", "type": "nominal", "sort": ["Aichinokaori","Asahi","Hatsushimo","Nakate Shinsenbon","Nikomaru"]}, "y": {"field": "med", "type": "quantitative", "title": "Aboveground Biomass (ton/ha)"}, "y2": {"field": "med"}}}
          ]}
        },
        {
          "data": {"name": "f"},
          "title": {"text": "(f) trial with no fertilizer", "orient": "bottom", "fontSize": 21, "fontWeight": "normal", "color": "black", "anchor": "middle", "offset": 13, "dx": 50},
          "facet": {"column": {"field": "stage", "type": "nominal", "sort": ["Tillering","Stem Elongation","Booting"], "title": null, "header": {"labels": false}}},
          "spacing": 6,
          "spec": {"width": 144, "height": 305, "layer": [
            {"mark": {"type": "rect", "color": "#D9D9D9"}, "encoding": {"y": {"datum": 6.27, "type": "quantitative", "title": "Leaf Area Index (m²/m²)", "scale": {"domain": [-0.3, 6.79], "nice": false, "zero": false}, "axis": {"values": [0,1,2,3,4,5,6], "labelExpr": "datum.value % 2 === 0 ? format(datum.value, '.1f') : ''", "gridWidth": {"condition": {"test": "datum.value % 2 === 0", "value": 1.1}, "value": 0.5}, "tickOpacity": {"condition": {"test": "datum.value % 2 === 0", "value": 1}, "value": 0}}}, "y2": {"datum": 6.79}}},
            {"transform": [{"filter": "datum.variety === 'Aichinokaori'"}], "mark": {"type": "text", "fontSize": 11, "color": "#1A1A1A", "baseline": "middle"}, "encoding": {"y": {"datum": 6.53, "type": "quantitative", "title": "Leaf Area Index (m²/m²)"}, "text": {"field": "stage"}}},
            {"mark": {"type": "rule", "color": "#444444", "strokeWidth": 0.7}, "encoding": {"x": {"field": "variety", "type": "nominal", "sort": ["Aichinokaori","Asahi","Hatsushimo","Nakate Shinsenbon","Nikomaru"], "scale": {"paddingInner": 0.28, "paddingOuter": 0.12}, "axis": {"labels": false, "ticks": false, "domain": false, "title": null, "grid": true, "gridColor": "white", "gridWidth": 1, "bandPosition": 0.5}}, "y": {"field": "lo", "type": "quantitative", "title": "Leaf Area Index (m²/m²)"}, "y2": {"field": "hi"}}},
            {"mark": {"type": "bar", "stroke": "#333333", "strokeWidth": 0.6}, "encoding": {"x": {"field": "variety", "type": "nominal", "sort": ["Aichinokaori","Asahi","Hatsushimo","Nakate Shinsenbon","Nikomaru"]}, "y": {"field": "q1", "type": "quantitative", "title": "Leaf Area Index (m²/m²)"}, "y2": {"field": "q3"}, "fill": {"field": "variety", "type": "nominal", "title": "Variety", "scale": {"domain": ["Aichinokaori","Asahi","Hatsushimo","Nakate Shinsenbon","Nikomaru"], "range": ["#6e6e6e","#858585","#b3b3b3","#d5d5d5","#ffffff"]}, "legend": {"orient": "none", "legendX": 4, "legendY": 36}}}},
            {"mark": {"type": "bar", "filled": false, "color": "#222222", "strokeWidth": 2}, "encoding": {"x": {"field": "variety", "type": "nominal", "sort": ["Aichinokaori","Asahi","Hatsushimo","Nakate Shinsenbon","Nikomaru"]}, "y": {"field": "med", "type": "quantitative", "title": "Leaf Area Index (m²/m²)"}, "y2": {"field": "med"}}}
          ]}
        },
        {
          "data": {"name": "h"},
          "title": {"text": "(h) trial with fertilizer", "orient": "bottom", "fontSize": 21, "fontWeight": "normal", "color": "black", "anchor": "middle", "offset": 10, "dx": 62},
          "facet": {"column": {"field": "stage", "type": "nominal", "sort": ["Tillering","Stem Elongation","Booting"], "title": null, "header": {"labels": false}}},
          "spacing": 6,
          "spec": {"width": 144, "height": 305, "layer": [
            {"mark": {"type": "rect", "color": "#D9D9D9"}, "encoding": {"y": {"datum": 6.27, "type": "quantitative", "title": "Leaf Area Index (m²/m²)", "scale": {"domain": [-0.3, 6.79], "nice": false, "zero": false}, "axis": {"values": [0,1,2,3,4,5,6], "labelExpr": "datum.value % 2 === 0 ? format(datum.value, '.1f') : ''", "gridWidth": {"condition": {"test": "datum.value % 2 === 0", "value": 1.1}, "value": 0.5}, "tickOpacity": {"condition": {"test": "datum.value % 2 === 0", "value": 1}, "value": 0}}}, "y2": {"datum": 6.79}}},
            {"transform": [{"filter": "datum.variety === 'Aichinokaori'"}], "mark": {"type": "text", "fontSize": 11, "color": "#1A1A1A", "baseline": "middle"}, "encoding": {"y": {"datum": 6.53, "type": "quantitative", "title": "Leaf Area Index (m²/m²)"}, "text": {"field": "stage"}}},
            {"mark": {"type": "rule", "color": "#444444", "strokeWidth": 0.7}, "encoding": {"x": {"field": "variety", "type": "nominal", "sort": ["Aichinokaori","Asahi","Hatsushimo","Nakate Shinsenbon","Nikomaru"], "scale": {"paddingInner": 0.28, "paddingOuter": 0.12}, "axis": {"labels": false, "ticks": false, "domain": false, "title": null, "grid": true, "gridColor": "white", "gridWidth": 1, "bandPosition": 0.5}}, "y": {"field": "lo", "type": "quantitative", "title": "Leaf Area Index (m²/m²)"}, "y2": {"field": "hi"}}},
            {"mark": {"type": "bar", "stroke": "#333333", "strokeWidth": 0.6}, "encoding": {"x": {"field": "variety", "type": "nominal", "sort": ["Aichinokaori","Asahi","Hatsushimo","Nakate Shinsenbon","Nikomaru"]}, "y": {"field": "q1", "type": "quantitative", "title": "Leaf Area Index (m²/m²)"}, "y2": {"field": "q3"}, "fill": {"field": "variety", "type": "nominal", "title": "Variety", "scale": {"domain": ["Aichinokaori","Asahi","Hatsushimo","Nakate Shinsenbon","Nikomaru"], "range": ["#6e6e6e","#858585","#b3b3b3","#d5d5d5","#ffffff"]}, "legend": {"orient": "none", "legendX": 3, "legendY": 26}}}},
            {"mark": {"type": "bar", "filled": false, "color": "#222222", "strokeWidth": 2}, "encoding": {"x": {"field": "variety", "type": "nominal", "sort": ["Aichinokaori","Asahi","Hatsushimo","Nakate Shinsenbon","Nikomaru"]}, "y": {"field": "med", "type": "quantitative", "title": "Leaf Area Index (m²/m²)"}, "y2": {"field": "med"}}}
          ]}
        }
      ]
    }
  ],
  "config": {
    "font": "Liberation Sans",
    "view": {"fill": "#EBEBEB", "stroke": null},
    "axisY": {"domain": false, "tickColor": "#333333", "tickSize": 3, "labelColor": "#4D4D4D", "labelFontSize": 10, "labelPadding": 2, "titleFontSize": 15, "titleFontWeight": "normal", "titleColor": "#1A1A1A", "gridColor": "white", "minExtent": 36, "maxExtent": 36, "titlePadding": 6},
    "legend": {"fillColor": "white", "padding": 10, "titleFontWeight": "normal", "titleFontSize": 12, "titleColor": "#1A1A1A", "labelFontSize": 13, "labelColor": "#1A1A1A", "symbolType": "square", "symbolSize": 110, "symbolStrokeColor": "#333333", "symbolStrokeWidth": 0.6, "rowPadding": 3, "titlePadding": 6, "labelOffset": 10, "symbolOffset": 2}
  }
}
